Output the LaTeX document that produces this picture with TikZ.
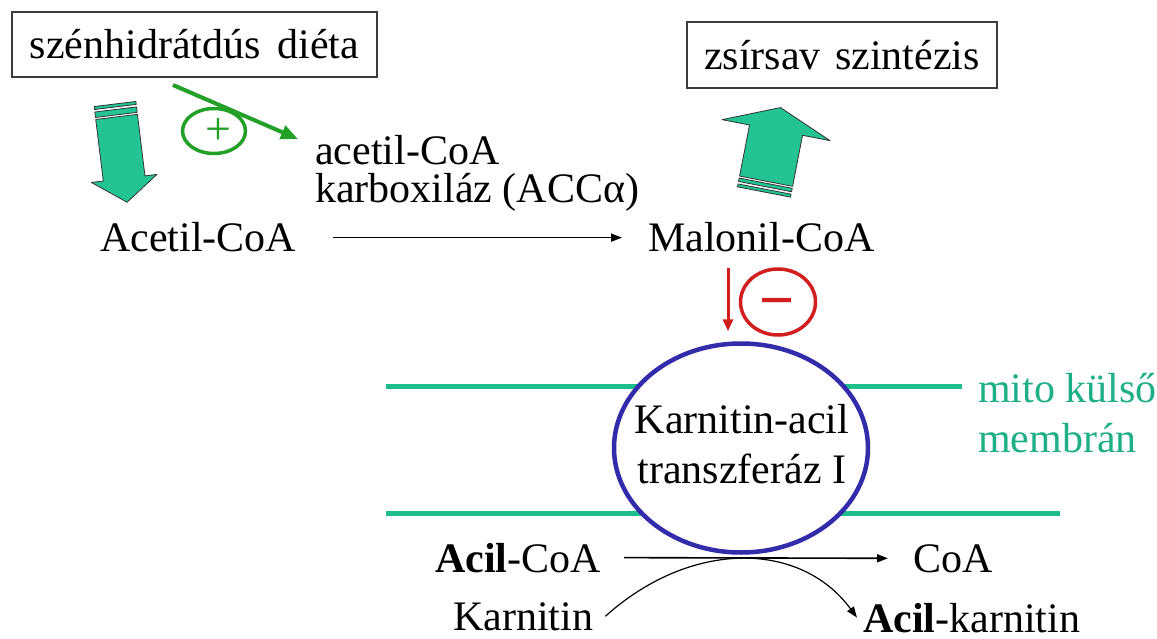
\documentclass[tikz,border=0pt]{standalone}
\usepackage{fontspec}
\setmainfont{Liberation Serif}
\newfontfamily\sansf{Liberation Sans}
\usetikzlibrary{arrows.meta,shapes.geometric}
\definecolor{teal2}{RGB}{30,190,140}
\definecolor{tealtxt}{RGB}{30,175,135}
\definecolor{fatfill}{RGB}{36,196,146}
\definecolor{gr}{RGB}{34,160,40}
\definecolor{rd}{RGB}{210,30,30}
\definecolor{bl}{RGB}{50,44,170}
\definecolor{boxline}{RGB}{60,60,60}
\begin{document}
\begin{tikzpicture}[x=1pt,y=-1pt,
  lbl/.style={inner sep=0pt, font=\fontsize{42}{50}\selectfont, anchor=base west},
  clbl/.style={inner sep=0pt, font=\fontsize{42}{50}\selectfont, anchor=base},
  boxnode/.style={draw=boxline, line width=2pt, inner sep=0pt, font=\fontsize{42}{50}\selectfont},
  rxn/.style={line width=1.6pt, -{Triangle[length=11pt,width=8pt]}},
  membrane/.style={draw=teal2, line width=5pt},
  fat/.style={fill=fatfill, draw=black!80, line width=0.8pt, line join=round},
]
\fill[white] (0,0) rectangle (1157,639);
\useasboundingbox (0,0) rectangle (1157,639);

% boxes
\node[boxnode, minimum width=365pt, minimum height=65pt] (diet) at (194.5,44.5) {szénhidrátdús\hspace{6pt} diéta\hspace{8pt}};
\node[boxnode, minimum width=310pt, minimum height=66pt] (fas) at (842,55) {zsírsav\hspace{4pt} szintézis\hspace{12pt}};

% fat down arrow
\begin{scope}[shift={(115,104)}, rotate=7]
  \path[fat] (-21,13) -- (21,13) -- (21,75) -- (33,75) -- (0,99) -- (-33,75) -- (-21,75) -- cycle;
  \path[fat] (-21,0) rectangle (21,3);
  \path[fat] (-21,5.5) rectangle (21,11);
\end{scope}
% fat up arrow
\begin{scope}[shift={(764,192)}, rotate=-11]
  \path[fat] (-27,-11) -- (-27,-63) -- (-55,-63) -- (0,-86) -- (55,-63) -- (27,-63) -- (27,-11) -- cycle;
  \path[fat] (-27,0) rectangle (27,-3);
  \path[fat] (-27,-5.5) rectangle (27,-9);
\end{scope}

% plus circle and green arrow
\node[draw=gr, line width=3.5pt, ellipse, minimum width=63pt, minimum height=45pt, inner sep=0pt] (plus) at (214,131) {};
\node[text=gr, inner sep=0pt, font=\fontsize{46}{46}\selectfont] (plussign) at (218,132) {+};
\coordinate (gs) at (173,85);
\coordinate (ge) at (298,139);
\draw[gr, line width=4pt, -{Triangle[length=17pt,width=14pt]}] (gs) -- (ge);

% labels
\node[lbl] (acc1) at (315,165) {acetil-CoA};
\node[lbl] (acc2) at (315,203) {karboxiláz (ACCα)};
\node[lbl] (acetyl) at (100,252) {Acetil-CoA};
\node[lbl] (malonyl) at (648,252) {Malonil-CoA};
\draw[rxn] ([xshift=37pt]acetyl.east) -- ([xshift=-26pt]malonyl.west);

% membranes
\coordinate (m1a) at (386,386);
\coordinate (m1b) at (962,386);
\coordinate (m2a) at (386,513);
\coordinate (m2b) at (1060,513);
\draw[membrane] (m1a) -- (m1b);
\draw[membrane] (m2a) -- (m2b);
\node[lbl, text=tealtxt] (mito1) at (978,402) {mito külső};
\node[lbl, text=tealtxt] (mito2) at (978,452) {membrán};

% enzyme
\node[draw=bl, line width=4.5pt, fill=white, ellipse, minimum width=254pt, minimum height=209pt, inner sep=0pt] (cat) at (741,448) {};
\node[clbl] (cat1) at (742,433) {Karnitin-acil};
\node[clbl] (cat2) at (742,483) {transzferáz I};

% inhibition
\node[draw=rd, line width=3.5pt, ellipse, minimum width=75pt, minimum height=66pt, inner sep=0pt] (minus) at (778,302) {};
\node[text=rd, inner sep=0pt, anchor=base, font=\sansf\fontsize{60}{60}\selectfont] (minussign) at (777,320) {−};
\coordinate (inhtop) at (728,268);
\draw[rd, line width=3pt, -{Triangle[length=12pt,width=10pt]}] (inhtop) -- ([yshift=10pt]inhtop |- cat.north);

% bottom reaction
\node[lbl] (acylcoa) at (435,572) {\textbf{Acil}-CoA};
\node[lbl] (coa) at (913,572) {CoA};
\node[lbl] (karn) at (453,630) {Karnitin};
\node[lbl] (acylcarn) at (863,632) {\textbf{Acil}-karnitin};
\draw[rxn] ([xshift=23pt]acylcoa.east) -- ([xshift=-25pt]coa.west);
\draw[line width=1.2pt, -{Triangle[length=11pt,width=8pt]}] ([xshift=12pt]karn.east) .. controls (690,540) and (800,540) .. ([xshift=-6pt]acylcarn.west);
\end{tikzpicture}
\end{document}
